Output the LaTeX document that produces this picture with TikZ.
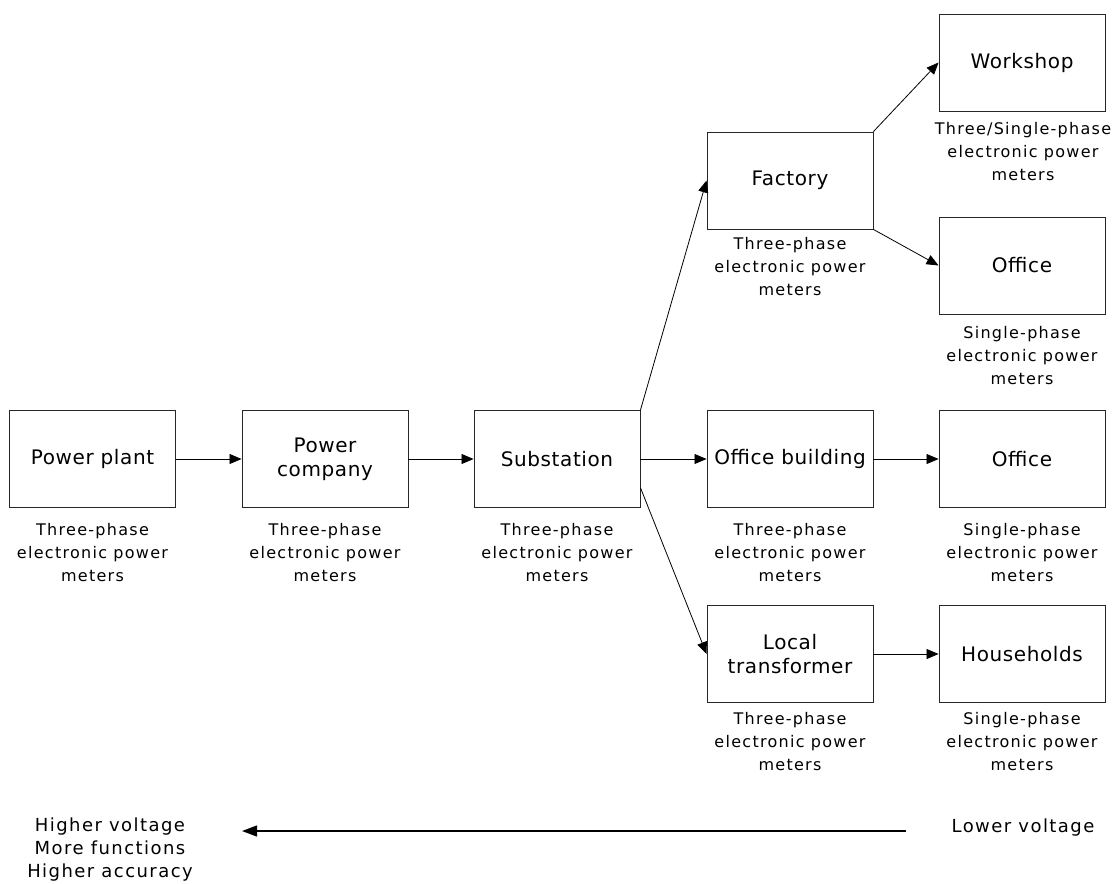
\documentclass[tikz,border=0pt]{standalone}
\usepackage{fontspec}
\setmainfont{DejaVu Sans}
\newfontfamily\boxfont[LetterSpace=3]{DejaVu Sans}
\newfontfamily\labfont[LetterSpace=8]{DejaVu Sans}
\usetikzlibrary{arrows.meta}
\begin{document}
\begin{tikzpicture}[x=1pt,y=-1pt,
  blk/.style={draw=black!85, line width=0.9pt, minimum width=166pt, minimum height=97pt,
    inner sep=0pt, align=center, font=\boxfont\fontsize{20}{24}\selectfont},
  lab/.style={align=center, inner sep=0pt, font=\labfont\fontsize{16}{23}\selectfont},
  bot/.style={align=center, inner sep=0pt, font=\labfont\fontsize{18}{23}\selectfont},
  conn/.style={line width=0.8pt, -{Triangle[length=12pt,width=10pt]}},
  big/.style={line width=1.3pt, -{Triangle[length=15pt,width=11pt]}}
]
\useasboundingbox (0,0) rectangle (1118,883);

% boxes
\node[blk] (pp) at (92.5,459) {Power plant};
\node[blk] (pc) at (325,459) {Power\\company};
\node[blk] (sub) at (557,459) {Substation};
\node[blk] (fac) at (790,180.5) {Factory};
\node[blk] (ob) at (790,459) {Office building};
\node[blk] (lt) at (790,654) {Local\\transformer};
\node[blk] (ws) at (1022,62.5) {Workshop};
\node[blk] (of1) at (1022,265.5) {Office};
\node[blk] (of2) at (1022,459) {Office};
\node[blk] (hh) at (1022,654) {Households};

% labels
\node[lab] (lpp) at (92.5,553) {Three-phase\\electronic power\\meters};
\node[lab] (lpc) at (325,553) {Three-phase\\electronic power\\meters};
\node[lab] (lsub) at (557,553) {Three-phase\\electronic power\\meters};
\node[lab] (lfac) at (790,267) {Three-phase\\electronic power\\meters};
\node[lab] (lob) at (790,553) {Three-phase\\electronic power\\meters};
\node[lab] (llt) at (790,742) {Three-phase\\electronic power\\meters};
\node[lab] (lws) at (1023,152) {Three/Single-phase\\electronic power\\meters};
\node[lab] (lof1) at (1022,356) {Single-phase\\electronic power\\meters};
\node[lab] (lof2) at (1022,553) {Single-phase\\electronic power\\meters};
\node[lab] (lhh) at (1022,742) {Single-phase\\electronic power\\meters};

% connectors
\draw[conn] (pp.east) -- (pc.west);
\draw[conn] (pc.east) -- (sub.west);
\draw[conn] (sub.east) -- (ob.west);
\draw[conn] (sub.north east) -- (fac.west);
\draw[conn] (sub.-19.3) -- (lt.west);
\draw[conn] (fac.north east) -- (ws.west);
\draw[conn] (fac.south east) -- (of1.west);
\draw[conn] (ob.east) -- (of2.west);
\draw[conn] (lt.east) -- (hh.west);

% bottom
\node[bot] (hv) at (110,850) {Higher voltage\\More functions\\Higher accuracy};
\node[bot, anchor=base] (lv) at (1023,832) {Lower voltage};
\coordinate (bs) at (906,831);
\coordinate (be) at (242,831);
\draw[big] (bs) -- (be);
\end{tikzpicture}
\end{document}
